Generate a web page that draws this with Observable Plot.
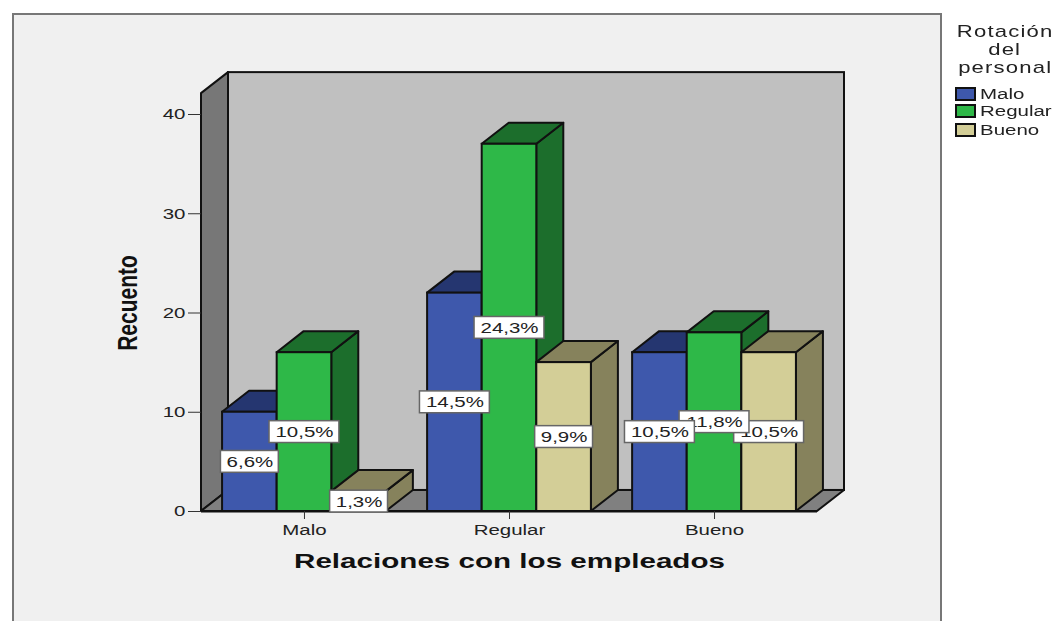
<!DOCTYPE html>
<html><head><meta charset="utf-8">
<script src="https://cdn.jsdelivr.net/npm/d3@7"></script>
<script src="https://cdn.jsdelivr.net/npm/@observablehq/plot@0.6"></script>
<style>
html,body{margin:0;padding:0;background:#fff;overflow:hidden}
#wrap{position:relative;width:1059px;height:621px;filter:blur(0.4px)}
#panel{position:absolute;left:12px;top:13px;width:926px;height:620px;background:#f0f0f0;border:2px solid #777}
#chart{position:absolute;left:0;top:0}
#chart svg{background:transparent!important;display:block}
#legend{position:absolute;left:950px;top:23px;width:110px;font-family:"Liberation Sans",Arial,sans-serif;color:#222}
#legend .t{font-size:17px;line-height:18px;text-align:center;letter-spacing:.9px;width:110px}
#legend .t span{display:inline-block;transform:scaleX(1.3);transform-origin:center}
#legend .r{position:absolute;left:5px;height:17px;display:flex;align-items:center;font-size:15.5px}
#legend .s{width:17px;height:10px;border:2px solid #111;margin-right:4px;flex:none}
#legend .r span{display:inline-block;transform:scaleX(1.32);transform-origin:left center}
</style></head><body>
<div id="wrap"><div id="panel"></div><div id="chart"></div>
<div id="legend"><div class="t"><span>Rotación</span><br><span>del</span><br><span>personal</span></div></div></div>
<script>
const categories = ["Malo", "Regular", "Bueno"];
const seriesNames = ["Malo", "Regular", "Bueno"];
const malo = [10, 16, 2];
const regular = [22, 37, 15];
const bueno = [16, 18, 16];
const percentLabels = [["6,6%","10,5%","1,3%"],["14,5%","24,3%","9,9%"],["10,5%","11,8%","10,5%"]];
const frontColors = ["#3e58ac", "#2eb848", "#d3ce97"];
const darkColors = ["#253670", "#1c6e2c", "#86825c"];
const yTicks = [0, 10, 20, 30, 40];
const groupStep = 3.755, depthX = 0.4945, depthY = 2.12;
const xDomain = [-1.886, 9.396], wallTop = 42.1;
const lineColor = "#111";
const bodyFont = "Liberation Sans";

const groups = [malo, regular, bueno];
const bars = groups.flatMap((vals, g) => vals.map((v, s) => ({
  g, s, v, x1: g * groupStep + s - 1.5, x2: g * groupStep + s - 0.5,
  label: percentLabels[g][s]
})));

const sweep = (a, b, fill, sw = 2) => Plot.area([a, b], {
  x1: d => d[0], y1: d => d[1],
  x2: d => d[0] + depthX, y2: d => d[1] + depthY,
  fill, stroke: lineColor, strokeWidth: sw, strokeLinejoin: "round"
});

const walls = [
  Plot.rect([0], {x1: xDomain[0] + depthX, x2: xDomain[1] + depthX, y1: depthY, y2: wallTop + depthY,
    fill: "#c0c0c0", stroke: lineColor, strokeWidth: 2}),
  sweep([xDomain[0], 0], [xDomain[0], wallTop], "#777777", 2),
  sweep([xDomain[0], 0], [xDomain[1], 0], "#808080", 2)
];

const barMarks = bars.flatMap(b => [
  sweep([b.x2, 0], [b.x2, b.v], darkColors[b.s]),
  sweep([b.x1, b.v], [b.x2, b.v], darkColors[b.s]),
  Plot.rect([b], {x1: "x1", x2: "x2", y1: 0, y2: "v", fill: frontColors[b.s], stroke: lineColor, strokeWidth: 2})
]);

const labelOrder = [2, 5, 4, 3, 1, 0, 8, 7, 6].map(i => bars[i]);
const boxHalfW = d => (d.label.length >= 5 ? 0.64 : 0.53);
const boxHalfH = 1.1;
const labelMarks = labelOrder.flatMap(b => [
  Plot.rect([b], {
    x1: d => (d.x1 + d.x2) / 2 - boxHalfW(d), x2: d => (d.x1 + d.x2) / 2 + boxHalfW(d),
    y1: d => d.v / 2 - boxHalfH, y2: d => d.v / 2 + boxHalfH,
    fill: "white", stroke: "#666", strokeWidth: 1.5
  }),
  Plot.text([b], {
    x: d => (d.x1 + d.x2) / 2, y: d => d.v / 2, text: "label",
    fontFamily: bodyFont, fontSize: 15.5, fill: "#222", textAnchor: "middle"
  })
]);

const chart = Plot.plot({
  width: 1059, height: 621,
  marginLeft: 201, marginRight: 242, marginTop: 114, marginBottom: 110,
  style: {background: "transparent", overflow: "visible"},
  x: {domain: xDomain},
  y: {domain: [0, 40]},
  marks: [
    ...walls,
    ...barMarks,
    Plot.ruleY([0], {x1: xDomain[0], x2: xDomain[1], stroke: lineColor, strokeWidth: 2}),
    Plot.axisY({ticks: yTicks, tickSize: 13, tickPadding: 3, fontSize: 15.5, fontFamily: bodyFont,
      stroke: "#333", fill: "#222", label: null}),
    Plot.axisY({ticks: [], label: "Recuento", labelArrow: "none", labelAnchor: "center", labelOffset: 84,
      fontFamily: bodyFont, fontSize: 28, fontWeight: "bold", fill: "#111"}),
    Plot.axisX({ticks: categories.map((c, i) => i * groupStep), tickFormat: (d, i) => categories[i],
      tickSize: 8, tickPadding: 4, fontSize: 15.5, fontFamily: bodyFont, stroke: "#333", fill: "#222", label: null}),
    Plot.axisX({ticks: [], label: "Relaciones con los empleados", labelArrow: "none", labelAnchor: "center", labelOffset: 56,
      fontFamily: bodyFont, fontSize: 21, fontWeight: "bold", fill: "#111"}),
    ...labelMarks
  ]
});
document.getElementById("chart").append(chart);

// the reference's type is stretched sideways; keep it real text and widen it
const stretch = (sel, sx, shift = "") => chart.querySelectorAll(sel).forEach(t => {
  t.setAttribute("transform", `${t.getAttribute("transform") || ""} ${shift} scale(${sx},1)`);
});
const wide = 1.32;
chart.querySelectorAll('g[aria-label="text"] text, g[aria-label="x-axis tick label"] text, g[aria-label="y-axis tick label"] text')
  .forEach(t => t.setAttribute("transform", `${t.getAttribute("transform") || ""} scale(${wide},1)`));
stretch('g[aria-label="x-axis label"] text', 1.41);
stretch('g[aria-label="y-axis label"] text', 0.75, "translate(10,0)");

const legend = document.getElementById("legend");
const rowTops = [62, 79, 98];
seriesNames.forEach((n, i) => {
  const r = document.createElement("div");
  r.className = "r"; r.style.top = rowTops[i] + "px";
  const s = document.createElement("div");
  s.className = "s"; s.style.background = frontColors[i];
  const l = document.createElement("span"); l.textContent = n;
  r.append(s, l);
  legend.append(r);
});
</script>
</body></html>
